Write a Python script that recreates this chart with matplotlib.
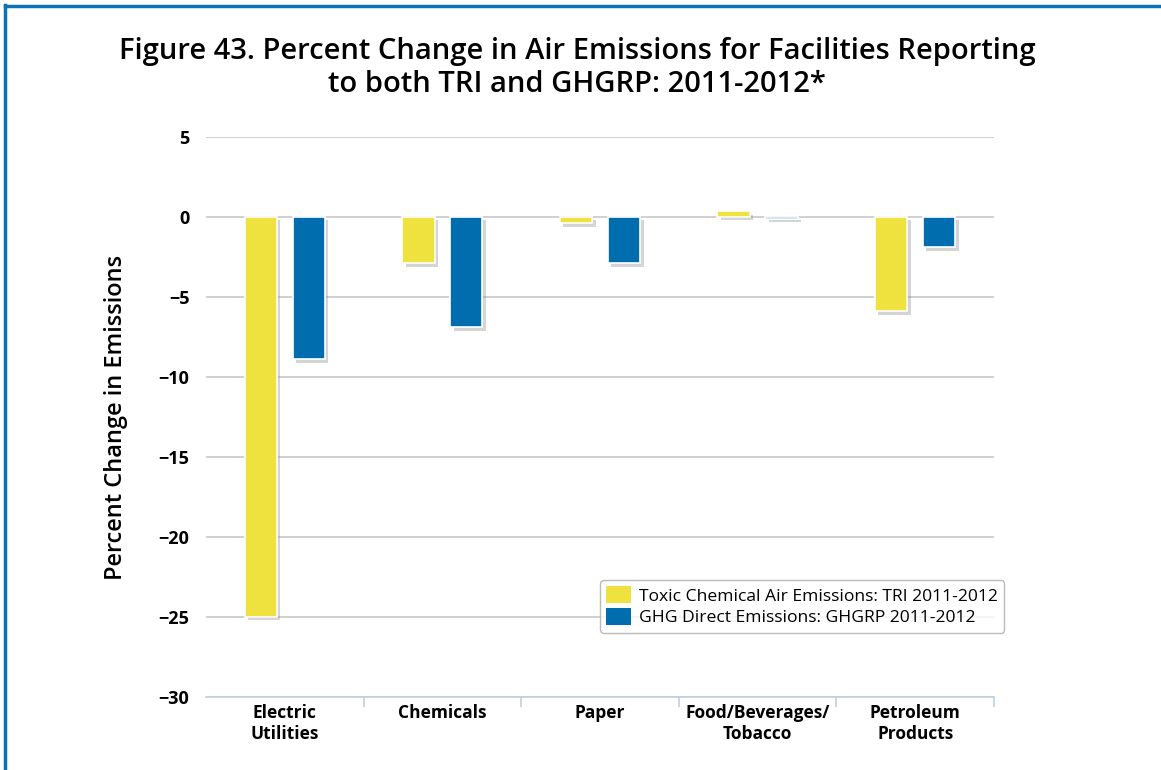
import numpy as np
import matplotlib.pyplot as plt
import matplotlib.patheffects as pe
from matplotlib.lines import Line2D

# sectors and percent change 2011-2012
categories = ["Electric\nUtilities", "Chemicals", "Paper", "Food/Beverages/\nTobacco", "Petroleum\nProducts"]
tri_change = [-25.0, -2.9, -0.4, 0.35, -5.9]
ghg_change = [-8.9, -6.9, -2.9, -0.1, -1.9]
yticks = [5, 0, -5, -10, -15, -20, -25, -30]

tri_color = "#EFE23E"
ghg_color = "#006DAF"
grid_color = "#C8C8C8"

fig = plt.figure(figsize=(11.61, 7.70), dpi=100)
ax = fig.add_axes([0.1774, 0.0948, 0.6787, 0.7273])

x = np.arange(len(categories))
w = 0.205
off = 0.152
shadow = [pe.SimplePatchShadow(offset=(2.5, -2.5), shadow_rgbFace="#888888", alpha=0.35), pe.Normal()]

b1 = ax.bar(x - off, tri_change, w, color=tri_color, edgecolor="white", linewidth=1.2, zorder=3,
            label="Toxic Chemical Air Emissions: TRI 2011-2012")
b2 = ax.bar(x + off, ghg_change, w, color=ghg_color, edgecolor="white", linewidth=1.2, zorder=3,
            label="GHG Direct Emissions: GHGRP 2011-2012")
for b in list(b1) + list(b2):
    b.set_path_effects(shadow)

ax.set_xlim(-0.5, len(categories) - 0.5)
ax.set_ylim(-30, 5)
ax.set_yticks(yticks)
ax.yaxis.grid(True, color=grid_color, linewidth=1.2, zorder=0)
ax.set_axisbelow(True)

for s in ["top", "right", "left"]:
    ax.spines[s].set_visible(False)
ax.spines["bottom"].set_color("#C0D0E0")
ax.spines["bottom"].set_linewidth(1.2)

ax.set_xticks(x)
ax.set_xticklabels(categories, fontfamily="Open Sans", fontweight="bold", fontsize=12.5, linespacing=1.2)
ax.tick_params(axis="x", length=0, pad=5)
ax.set_xticks(np.arange(0.5, len(categories)), minor=True)
ax.tick_params(axis="x", which="minor", length=7, color="#C0D0E0", width=1.2)
ax.tick_params(axis="y", length=0, pad=12)
for t in ax.get_yticklabels():
    t.set_fontfamily("Open Sans")
    t.set_fontweight("bold")
    t.set_fontsize(13)

ax.set_ylabel("Percent Change in Emissions", fontfamily="Open Sans", fontweight="semibold",
              fontsize=17, labelpad=22)

fig.text(0.497, 0.912, "Figure 43. Percent Change in Air Emissions for Facilities Reporting\nto both TRI and GHGRP: 2011-2012*",
         ha="center", va="center", fontfamily="Open Sans", fontweight="semibold", fontsize=21,
         linespacing=1.2)

leg = ax.legend(loc="upper left", bbox_to_anchor=(600 / 1161, 1 - 580 / 770), bbox_transform=fig.transFigure,
                prop={"family": "Open Sans", "size": 12.6}, frameon=True, fancybox=True,
                edgecolor="#AAAAAA", handlelength=1.4, handleheight=1.15, handletextpad=0.5,
                labelspacing=0.18, borderpad=0.35, borderaxespad=0)
leg.get_frame().set_linewidth(1.0)
for h in leg.legend_handles:
    h.set_path_effects([])
    h.set_edgecolor("none")

# blue frame at the top and left edges
fig.add_artist(Line2D([5 / 1161, 5 / 1161], [0, 1 - 5 / 770], color="#0B72B5", linewidth=2.5, transform=fig.transFigure))
fig.add_artist(Line2D([5 / 1161, 1], [1 - 6 / 770, 1 - 6 / 770], color="#0B72B5", linewidth=2.5, transform=fig.transFigure))

fig.savefig("out.png", dpi=100)
